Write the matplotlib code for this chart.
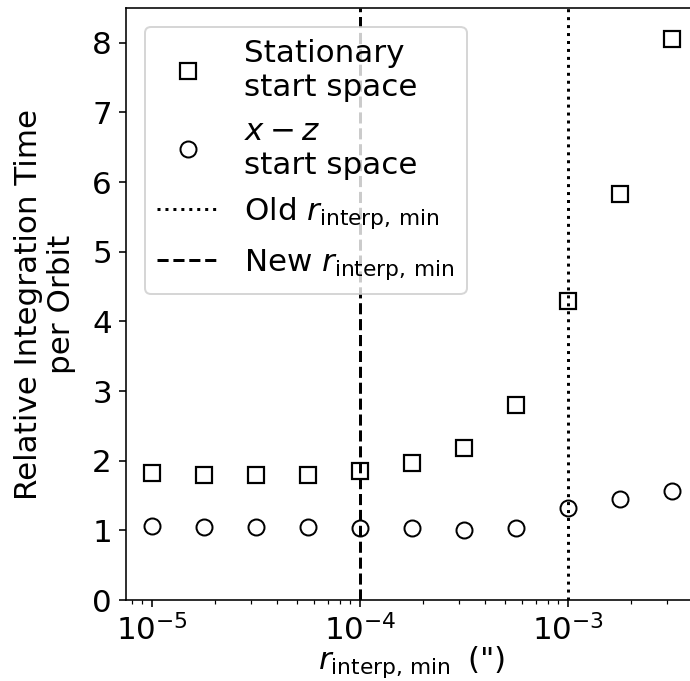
import numpy as np
import matplotlib
matplotlib.use("Agg")
import matplotlib.pyplot as plt

# r_interp,min values (arcsec)
r_min = [1e-5, 1.78e-5, 3.16e-5, 5.62e-5, 1e-4, 1.78e-4, 3.16e-4, 5.62e-4, 1e-3, 1.78e-3, 3.16e-3]
# relative integration time per orbit
t_stationary = [1.82, 1.80, 1.79, 1.79, 1.85, 1.96, 2.18, 2.80, 4.30, 5.83, 8.06]
t_xz = [1.06, 1.05, 1.05, 1.05, 1.04, 1.04, 1.00, 1.03, 1.32, 1.45, 1.57]

old_rmin = 1e-3
new_rmin = 1e-4

plt.rcParams['font.size'] = 15.5

dpi = 144
fig = plt.figure(figsize=(690/dpi, 681/dpi), dpi=dpi)
ax = fig.add_axes([126/690, 81/681, 572/690, 592/681])

ax.plot(r_min, t_stationary, 's', mfc='none', mec='k', ms=8, mew=1.1,
        label='Stationary\nstart space')
ax.plot(r_min, t_xz, 'o', mfc='none', mec='k', ms=8, mew=1.0,
        label='$x-z$\nstart space')
ax.axvline(old_rmin, color='k', ls=':', lw=1.5, label=r'Old $r_{\rm interp,\,min}$')
ax.axvline(new_rmin, color='k', ls='--', lw=1.5, label=r'New $r_{\rm interp,\,min}$')

ax.set_xscale('log')
ax.set_xlim(10**-5.125, 10**-2.375)
ax.set_ylim(0, 8.5)
ax.set_xlabel('$r_{\\rm interp,\\,min}$\u2009 (")', labelpad=-1)
ax.set_ylabel('Relative Integration Time\nper Orbit', labelpad=8)
ax.legend(loc='upper left', borderaxespad=0.6)

fig.savefig('out.png', dpi=dpi)
